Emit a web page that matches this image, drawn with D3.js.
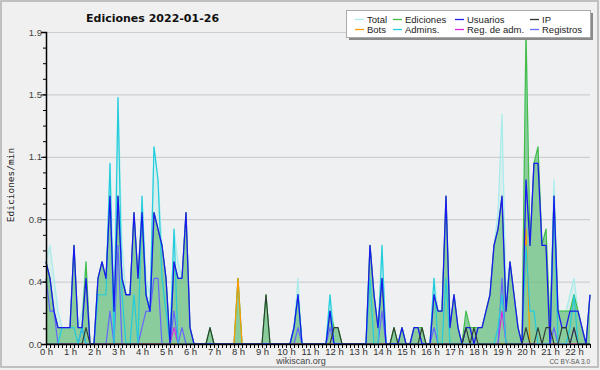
<!DOCTYPE html>
<html><head><meta charset="utf-8">
<script src="https://cdn.jsdelivr.net/npm/d3@7"></script>
<style>body{margin:0;background:#f0f0f0} svg{display:block}</style>
</head><body><svg id="c" width="600" height="370"></svg>
<script>
const hourLabels = ["0 h","1 h","2 h","3 h","4 h","5 h","6 h","7 h","8 h","9 h","10 h","11 h","12 h","13 h","14 h","15 h","16 h","17 h","18 h","19 h","20 h","21 h","22 h"];
const yTicks = [0, 0.38, 0.76, 1.14, 1.52, 1.9];

const total = [0.5,0.6,0.4,0.2,0.1,0.1,0.1,0.6,0.1,0.2,
 0.5,0,0,0.4,0.5,0.4,1.1,0.3,1.5,0.6,
 0.3,0.3,0.8,0.4,0.9,0.4,0.3,1.2,1.0,0.6,
 0.4,0,0.7,0.5,0.4,0.8,0.1,0,0,0,
 0,0.1,0,0,0,0,0,0,0.4,0,
 0,0,0,0,0,0.3,0,0,0,0,
 0,0,0.1,0.4,0,0,0,0,0,0,
 0,0.3,0.1,0.1,0,0,0,0,0,0,
 0,0.6,0.3,0.1,0.6,0,0,0.1,0,0.1,
 0,0,0.1,0.1,0.1,0,0,0.4,0.2,0.2,
 0.9,0.1,0.3,0.1,0,0.2,0.1,0.1,0.1,0.1,
 0.2,0.3,0.6,0.8,1.4,0.3,0.5,0.3,0.1,0,
 1.9,0.6,1.1,1.2,0.6,0.7,0.1,1.0,0.2,0.2,
 0.2,0.3,0.4,0.2,0.1,0,0.3];
const ediciones = [0.5,0.4,0.2,0.1,0.1,0.1,0.1,0.6,0.1,0.1,
 0.5,0,0,0.4,0.5,0.4,0.9,0.2,0.9,0.4,
 0.3,0.3,0.8,0.4,0.8,0.3,0.2,0.8,0.7,0.6,
 0.4,0,0.5,0.4,0.4,0.8,0.1,0,0,0,
 0,0.1,0,0,0,0,0,0,0.4,0,
 0,0,0,0,0,0.3,0,0,0,0,
 0,0,0.1,0.3,0,0,0,0,0,0,
 0,0.2,0.1,0.1,0,0,0,0,0,0,
 0,0.6,0.3,0.1,0.4,0,0,0.1,0,0.1,
 0,0,0.1,0.1,0.1,0,0,0.3,0.2,0.2,
 0.9,0.1,0.3,0.1,0,0.2,0.1,0.1,0.1,0.1,
 0.2,0.3,0.6,0.7,0.9,0.2,0.5,0.3,0.1,0,
 1.9,0.6,1.1,1.2,0.6,0.7,0.1,0.9,0.2,0.2,
 0.2,0.2,0.3,0.2,0.1,0,0.3];
const usuarios = [0.5,0.4,0.2,0.1,0.1,0.1,0.1,0.6,0.1,0.1,
 0.4,0,0,0.4,0.5,0.4,0.9,0.2,0.9,0.4,
 0.3,0.3,0.8,0.4,0.8,0.3,0.2,0.8,0.7,0.6,
 0.4,0,0.5,0.4,0.4,0.8,0.1,0,0,0,
 0,0,0,0,0,0,0,0,0,0,
 0,0,0,0,0,0,0,0,0,0,
 0,0,0.1,0.3,0,0,0,0,0,0,
 0,0.2,0,0,0,0,0,0,0,0,
 0,0.6,0.3,0.1,0.4,0,0,0,0,0.1,
 0,0,0.1,0.1,0,0,0,0.3,0.2,0.2,
 0.9,0.1,0.3,0.1,0,0.1,0.1,0,0.1,0.1,
 0.2,0.3,0.6,0.7,0.9,0.2,0.5,0.3,0.1,0,
 1.0,0.6,1.1,1.1,0.6,0.6,0,0.9,0.2,0.1,
 0.1,0.2,0.2,0.2,0.1,0,0.3];
const ip = [0,0,0,0,0,0,0,0,0,0,
 0.1,0,0,0,0,0,0,0,0,0,
 0,0,0,0,0,0,0,0,0,0,
 0,0,0,0,0,0,0,0,0,0,
 0,0.1,0,0,0,0,0,0,0,0,
 0,0,0,0,0,0.3,0,0,0,0,
 0,0,0,0,0,0,0,0,0,0,
 0,0,0.1,0.1,0,0,0,0,0,0,
 0,0,0,0,0,0,0,0.1,0,0,
 0,0,0,0,0.1,0,0,0,0,0,
 0,0,0,0,0,0.1,0,0.1,0,0,
 0,0,0,0,0,0,0,0,0,0,
 0.1,0,0,0.1,0,0.1,0.1,0,0,0.1,
 0.1,0,0.1,0,0,0,0];
const bots = [0,0,0,0,0,0,0,0,0,0,
 0,0,0,0,0,0,0,0,0,0,
 0,0,0,0,0,0,0,0,0,0,
 0,0,0,0,0,0,0,0,0,0,
 0,0,0,0,0,0,0,0,0.4,0,
 0,0,0,0,0,0,0,0,0,0,
 0,0,0,0,0,0,0,0,0,0,
 0,0,0,0,0,0,0,0,0,0,
 0,0,0,0,0,0,0,0,0,0,
 0,0,0,0,0,0,0,0,0,0,
 0,0,0,0,0,0,0,0,0,0,
 0,0,0,0,0,0,0,0,0,0,
 0.7,0,0,0,0,0,0,0,0,0,
 0,0,0,0,0,0,0];
const admins = [0,0,0,0,0.1,0.1,0.1,0.1,0,0.1,
 0,0,0,0.3,0.3,0.3,1.1,0,1.5,0.3,
 0,0,0.3,0,0.9,0.3,0.2,1.2,1.0,0.4,
 0.2,0,0.7,0,0,0,0,0,0,0,
 0,0,0,0,0,0,0,0,0,0,
 0,0,0,0,0,0,0,0,0,0,
 0,0,0.1,0.3,0,0,0,0,0,0,
 0,0.3,0,0,0,0,0,0,0,0,
 0,0.4,0,0,0.6,0,0,0,0,0,
 0,0,0,0,0,0,0,0.4,0,0,
 0.4,0,0,0,0,0,0,0,0,0,
 0,0,0,0.1,0.3,0,0,0,0,0,
 0.6,0.2,0.2,0,0,0,0,0.9,0,0,
 0,0.1,0.3,0,0,0,0];
const regAdm = [0,0,0,0,0,0,0,0,0,0,
 0,0,0,0,0,0,0,0,0,0,
 0,0,0,0,0,0,0,0,0,0,
 0,0,0.1,0,0,0,0,0,0,0,
 0,0,0,0,0,0,0,0,0,0,
 0,0,0,0,0,0,0,0,0,0,
 0,0,0,0,0,0,0,0,0,0,
 0,0,0,0,0,0,0,0,0,0,
 0,0,0,0,0,0,0,0,0,0,
 0,0,0,0,0,0,0,0,0,0,
 0,0,0,0,0,0,0,0,0,0,
 0,0,0,0,0.2,0,0,0,0,0,
 0,0,0,0,0,0,0,0,0,0,
 0,0,0,0,0,0,0];
const registros = [0.4,0.2,0.2,0,0,0,0,0,0,0.1,
 0,0,0,0,0,0,0.2,0,0.6,0,
 0,0,0,0,0.1,0.2,0.2,0.4,0.4,0,
 0,0,0.2,0,0.1,0,0,0,0,0,
 0,0,0,0,0,0,0,0,0,0,
 0,0,0,0,0,0,0,0,0,0,
 0,0,0,0.1,0,0,0,0,0,0,
 0,0.1,0,0,0,0,0,0,0,0,
 0,0,0,0,0.2,0,0,0,0,0,
 0,0,0,0,0,0,0,0.1,0,0,
 0,0,0,0,0,0,0,0,0,0,
 0,0,0,0,0.4,0,0,0,0,0,
 0,0,0,0,0,0,0,0.1,0,0,
 0,0,0.1,0,0,0,0];

const legendItems = [
  {name:"Total", color:"#a8ecec"}, {name:"Bots", color:"#ff9900"},
  {name:"Ediciones", color:"#44bb44"}, {name:"Admins.", color:"#22ccdd"},
  {name:"Usuarios", color:"#2222ee"}, {name:"Reg. de adm.", color:"#dd22dd"},
  {name:"IP", color:"#333333"}, {name:"Registros", color:"#6666ff"}
];

const svg = d3.select("#c");
const F = "'Liberation Sans', Arial, sans-serif";
const x0 = 46, x1 = 590, yTop = 32, yBot = 344;
const x = d3.scaleLinear().domain([0, total.length - 1]).range([x0, x1]);
const y = d3.scaleLinear().domain([0, 1.9]).range([yBot, yTop]);

svg.append("rect").attr("x",1).attr("y",1).attr("width",597).attr("height",366)
  .attr("fill","#f0f0f0").attr("stroke","#b0b0b0").attr("stroke-width",1.5);
svg.append("rect").attr("x",x0).attr("y",yTop).attr("width",x1-x0).attr("height",yBot-yTop).attr("fill","#eef0f2");

// grid
svg.append("g").attr("transform",`translate(${x0},0)`)
  .call(d3.axisLeft(y).tickValues(yTicks.slice(1)).tickSize(-(x1-x0)).tickFormat(""))
  .call(g=>{g.select(".domain").remove(); g.selectAll("line").attr("stroke","#cfcfcf").attr("stroke-width",1.2);});

const idx = d3.range(total.length);
const area = arr => d3.area().x(i=>x(i)).y0(yBot).y1(i=>y(arr[i]));
const line = arr => d3.line().x(i=>x(i)).y(i=>y(arr[i]));

svg.append("path").datum(idx).attr("d",area(total)).attr("fill","rgba(175,235,225,0.35)");
svg.append("path").datum(idx).attr("d",area(ediciones)).attr("fill","rgba(60,170,75,0.5)");

const series = [
  [total,"#a8ecec",1.2],[ediciones,"#44bb44",1.2],[bots,"#ff9900",1.2],[regAdm,"#dd22dd",1.1],
  [registros,"#6666ff",1.2],[admins,"#22ccdd",1.2],[usuarios,"#1a1aee",1.3],[ip,"#2f3b30",1.1]
];
series.forEach(([arr,c,w])=>{
  svg.append("path").datum(idx).attr("d",line(arr)).attr("fill","none").attr("stroke",c).attr("stroke-width",w).attr("stroke-linejoin","round");
});

// y axis
const minor = d3.range(0, 21).map(k => k*0.095);
svg.append("g").attr("transform",`translate(${x0},0)`)
  .call(d3.axisLeft(y).tickValues(minor).tickSize(3).tickFormat(""))
  .call(g=>{g.select(".domain").remove(); g.selectAll("line").attr("stroke","#000");});
svg.append("g").attr("transform",`translate(${x0},0)`)
  .call(d3.axisLeft(y).tickValues(yTicks).tickSize(5).tickFormat(d3.format(".1f")))
  .call(g=>{g.select(".domain").attr("stroke","#000").attr("stroke-width",1.5);
    g.selectAll("line").attr("stroke","#000");
    g.selectAll("text").attr("font-family",F).attr("font-size","9.5px").attr("fill","#444").attr("x",-4);});

// x axis
svg.append("g").attr("transform",`translate(0,${yBot})`)
  .call(d3.axisBottom(x).tickValues(idx).tickSize(4).tickFormat("").tickSizeOuter(0))
  .call(g=>{g.select(".domain").attr("stroke","#000").attr("stroke-width",1.5);
    g.selectAll("line").attr("stroke","#000");});
svg.append("g").attr("transform",`translate(0,${yBot})`)
  .call(d3.axisBottom(x).tickValues(hourLabels.map((d,k)=>k*6)).tickSize(0).tickFormat((d,k)=>hourLabels[k]))
  .call(g=>{g.select(".domain").remove();
    g.selectAll("text").attr("font-family",F).attr("font-size","9.5px").attr("fill","#333").attr("y",4);});

// texts
svg.append("text").attr("x",86).attr("y",22).attr("font-family","'DejaVu Sans', sans-serif").attr("font-weight","bold").attr("font-size","11px").attr("fill","#111").text("Ediciones  2022-01-26");
svg.append("text").attr("transform","translate(14,185) rotate(-90)").attr("text-anchor","middle").attr("font-family","'DejaVu Sans Mono', monospace").attr("font-size","9.5px").attr("fill","#222").text("Ediciones/min");
svg.append("text").attr("x",301).attr("y",364).attr("text-anchor","middle").attr("font-family",F).attr("font-size","9px").attr("fill","#444").text("wikiscan.org");
svg.append("text").attr("x",590).attr("y",364).attr("text-anchor","end").attr("font-family",F).attr("font-size","6.5px").attr("fill","#555").text("CC BY-SA 3.0");

// legend
const lg = svg.append("g");
lg.append("rect").attr("x",349).attr("y",13).attr("width",244).attr("height",27).attr("fill","#8a8a8a");
lg.append("rect").attr("x",346.5).attr("y",10.5).attr("width",244).attr("height",27).attr("fill","#fff").attr("stroke","#aaa");
const colX = [355, 393, 455, 530];
const rowY = [19.5, 29.5];
legendItems.forEach((d,k)=>{
  const cx = colX[Math.floor(k/2)], cy = rowY[k%2];
  lg.append("line").attr("x1",cx).attr("x2",cx+9).attr("y1",cy).attr("y2",cy).attr("stroke",d.color).attr("stroke-width",1.3);
  lg.append("text").attr("x",cx+12).attr("y",cy+3.5).attr("font-family",F).attr("font-size","9.5px").attr("fill","#222").text(d.name);
});
</script></body></html>
